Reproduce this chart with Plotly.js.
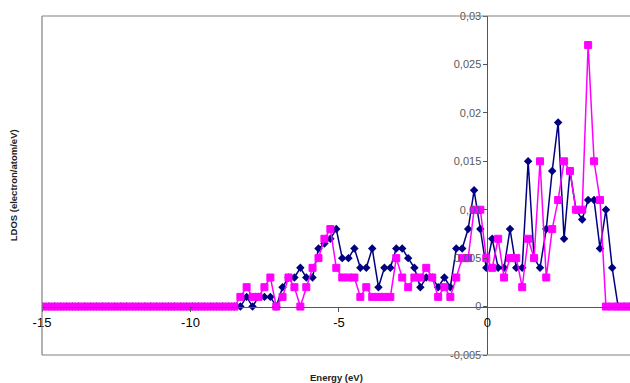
<!DOCTYPE html>
<html>
<head>
<meta charset="utf-8">
<script src="https://cdn.plot.ly/plotly-3.0.1.min.js"></script>
<style>
  html, body { margin: 0; padding: 0; background: #ffffff; }
  #chart { width: 630px; height: 383px; }
</style>
</head>
<body>
<div id="chart"></div>
<script>
// Energy grid (eV)
const energy = [
  -14.98, -14.77, -14.57, -14.37, -14.17, -13.97, -13.77, -13.56, -13.36, -13.16,
  -12.96, -12.76, -12.55, -12.35, -12.15, -11.95, -11.75, -11.54, -11.34, -11.14,
  -10.94, -10.74, -10.54, -10.33, -10.13, -9.93, -9.73, -9.53, -9.32, -9.12,
  -8.92, -8.72, -8.52,
  -8.32, -8.11, -7.91, -7.71, -7.51, -7.31, -7.11, -6.90, -6.70, -6.50,
  -6.30, -6.10, -5.89, -5.69, -5.49, -5.29, -5.09, -4.89, -4.68, -4.48,
  -4.28, -4.08, -3.88, -3.67, -3.47, -3.27, -3.07, -2.87, -2.67, -2.46,
  -2.26, -2.06, -1.86, -1.66, -1.45, -1.25, -1.05, -0.85, -0.65, -0.45,
  -0.24, -0.04, 0.16, 0.36, 0.56, 0.76, 0.97, 1.17, 1.37, 1.57,
  1.77, 1.98, 2.18, 2.38, 2.58, 2.78, 2.98, 3.19, 3.39, 3.59,
  3.79, 3.99, 4.20, 4.40, 4.60, 4.80
];

// Navy series (diamonds)
const ldosNavy = [
  0, 0, 0, 0, 0, 0, 0, 0, 0, 0,
  0, 0, 0, 0, 0, 0, 0, 0, 0, 0,
  0, 0, 0, 0, 0, 0, 0, 0, 0, 0,
  0, 0, 0,
  0, 0.001, 0, 0.001, 0.001, 0.001, 0, 0.002, 0.003, 0.003,
  0.004, 0.003, 0.003, 0.006, 0.0065, 0.007, 0.008, 0.005, 0.005, 0.006,
  0.004, 0.004, 0.006, 0.002, 0.004, 0.004, 0.006, 0.006, 0.005, 0.004,
  0.002, 0.003, 0.003, 0.002, 0.003, 0.002, 0.006, 0.006, 0.008, 0.012,
  0.008, 0.004, 0.007, 0.004, 0.004, 0.008, 0.004, 0.004, 0.015, 0.005,
  0.004, 0.008, 0.014, 0.019, 0.007, 0.014, 0.010, 0.009, 0.011, 0.011,
  0.006, 0.010, 0.004, 0, 0, 0
];

// Magenta series (squares)
const ldosPink = [
  0, 0, 0, 0, 0, 0, 0, 0, 0, 0,
  0, 0, 0, 0, 0, 0, 0, 0, 0, 0,
  0, 0, 0, 0, 0, 0, 0, 0, 0, 0,
  0, 0, 0,
  0.001, 0.002, 0.001, 0.001, 0.002, 0.003, 0, 0.001, 0.003, 0.002,
  0, 0.002, 0.004, 0.005, 0.007, 0.008, 0.004, 0.003, 0.003, 0.003,
  0.001, 0.002, 0.001, 0.001, 0.001, 0.001, 0.005, 0.003, 0.002, 0.003,
  0.003, 0.004, 0.003, 0.001, 0.002, 0.001, 0.003, 0.005, 0.005, 0.010,
  0.010, 0.005, 0.004, 0.007, 0.003, 0.005, 0.005, 0.002, 0.007, 0.005,
  0.015, 0.003, 0.008, 0.011, 0.015, 0.014, 0.010, 0.010, 0.027, 0.015,
  0.011, 0, 0, 0, 0, 0
];

// Tick labels
const xTickVals = [-15, -10, -5, 0];
const xTickText = ["-15", "-10", "-5", "0"];
const yTickVals = [-0.005, 0, 0.005, 0.01, 0.015, 0.02, 0.025, 0.03];
const yTickText = ["-0,005", "0", "0,005", "0,01", "0,015", "0,02", "0,025", "0,03"];

const xRange = [-15, 4.8];
const yRange = [-0.005, 0.03];

const traces = [
  {
    x: energy, y: ldosNavy, type: "scatter", mode: "lines+markers",
    line: { color: "#000080", width: 1.5 },
    marker: { symbol: "diamond", size: 6.5, color: "#000080" },
    showlegend: false
  },
  {
    x: energy, y: ldosPink, type: "scatter", mode: "lines+markers",
    line: { color: "#FF00FF", width: 1.5 },
    marker: { symbol: "square", size: 7, color: "#FF00FF", line: { color: "#FF00FF", width: 1 } },
    showlegend: false
  }
];

const layout = {
  width: 630, height: 383,
  margin: { l: 42, r: 0, t: 16, b: 28, pad: 0 },
  paper_bgcolor: "#ffffff", plot_bgcolor: "#ffffff",
  font: { family: "Liberation Sans, Arial, sans-serif", color: "#000000" },
  xaxis: {
    range: xRange, anchor: "free",
    position: (0 - yRange[0]) / (yRange[1] - yRange[0]),
    showgrid: false, zeroline: false,
    showline: true, linecolor: "#555555", linewidth: 1,
    ticks: "outside", ticklen: 4, tickcolor: "#555555",
    tickmode: "array", tickvals: xTickVals, ticktext: xTickText,
    tickfont: { size: 13, color: "#000000" }
  },
  yaxis: {
    range: yRange, anchor: "free",
    position: (0 - xRange[0]) / (xRange[1] - xRange[0]),
    showgrid: false, zeroline: false,
    showline: true, linecolor: "#555555", linewidth: 1,
    ticks: "outside", ticklen: 4, tickcolor: "#555555",
    tickmode: "array", tickvals: yTickVals, ticktext: yTickText,
    tickfont: { size: 11, color: "#595959" }
  },
  shapes: [
    { type: "line", xref: "paper", yref: "paper", x0: 0, x1: 0, y0: 0, y1: 1, line: { color: "#808080", width: 1.2 } },
    { type: "line", xref: "paper", yref: "paper", x0: 0, x1: 1, y0: 1, y1: 1, line: { color: "#808080", width: 1.2 } },
    { type: "line", xref: "paper", yref: "paper", x0: 0, x1: 1, y0: 0, y1: 0, line: { color: "#808080", width: 1.2 } }
  ],
  annotations: [
    {
      text: "Energy (eV)", xref: "paper", yref: "paper", x: 0.5, y: -0.065,
      xanchor: "center", yanchor: "middle", showarrow: false,
      font: { size: 9.5, weight: "bold", color: "#222222" }
    },
    {
      text: "LDOS (electron/atom/eV)", xref: "paper", yref: "paper", x: -0.048, y: 0.5,
      xanchor: "center", yanchor: "middle", showarrow: false, textangle: -90,
      font: { size: 9.5, weight: "bold", color: "#222222" }
    }
  ]
};

Plotly.newPlot("chart", traces, layout, { staticPlot: true, displayModeBar: false });
</script>
</body>
</html>
